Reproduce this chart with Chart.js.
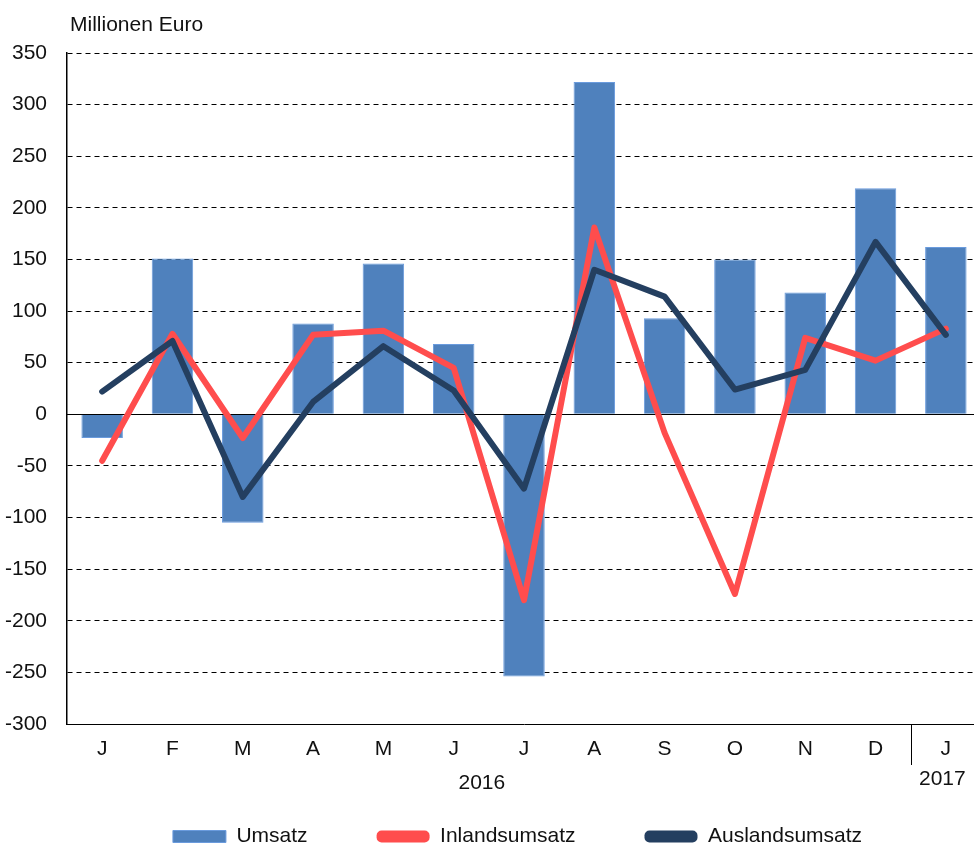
<!DOCTYPE html>
<html>
<head>
<meta charset="utf-8">
<script src="https://cdn.jsdelivr.net/npm/chart.js@4/dist/chart.umd.min.js"></script>
<style>
html, body { margin: 0; padding: 0; background: #fff; overflow: hidden; }
#wrap { width: 974px; height: 846px; overflow: hidden; }
</style>
</head>
<body>
<div id="wrap"><canvas id="chart" width="981" height="864"></canvas></div>
<script>
var months = ['J', 'F', 'M', 'A', 'M', 'J', 'J', 'A', 'S', 'O', 'N', 'D', 'J'];
var umsatz = [-23, 151, -105, 88, 146, 68, -254, 322, 93, 150, 118, 219, 162];
var inland = [-45, 78, -23, 77, 81, 45, -180, 181, -18, -174, 74, 52, 83];
var ausland = [22, 71, -80, 12, 66, 23, -72, 140, 114, 24, 43, 167, 77];
var years = ['2016', '2017'];
var yMin = -300, yMax = 350, yStep = 50;

var FONT = '"Liberation Sans", Arial, sans-serif';

// the original plot runs a few pixels past the right edge, so the canvas
// is a bit bigger than the window and gets cropped
var extras = {
    id: 'extras',
    afterLayout: function (chart) {
        var lg = chart.legend;
        lg.left += 27; lg.right += 27;
        lg.top -= 7; lg.bottom -= 7;
    },
    afterDatasetDraw: function (chart, args) {
        if (args.index !== 0) return;
        var ctx = chart.ctx, y = chart.scales.y.getPixelForValue(0), a = chart.chartArea;
        ctx.save();
        ctx.strokeStyle = '#000';
        ctx.lineWidth = 1;
        ctx.beginPath();
        ctx.moveTo(a.left, Math.round(y) + 0.5);
        ctx.lineTo(a.right, Math.round(y) + 0.5);
        ctx.stroke();
        ctx.restore();
    },
    afterDraw: function (chart) {
        var ctx = chart.ctx, x = chart.scales.x, a = chart.chartArea;
        ctx.save();
        ctx.fillStyle = '#111';
        ctx.font = '21px ' + FONT;
        ctx.textBaseline = 'middle';
        ctx.textAlign = 'left';
        ctx.fillText('Millionen Euro', 70, 25);

        // year separator between D and J
        var sx = Math.round(x.getPixelForValue(11.5)) + 0.5;
        ctx.strokeStyle = '#000';
        ctx.lineWidth = 1;
        ctx.beginPath();
        ctx.moveTo(sx, a.bottom);
        ctx.lineTo(sx, a.bottom + 41);
        ctx.stroke();

        ctx.textAlign = 'center';
        ctx.fillText(years[0], x.getPixelForValue(5.4), 783);
        ctx.fillText(years[1], x.getPixelForValue(11.95), 779);
        ctx.restore();
    }
};

new Chart(document.getElementById('chart'), {
    type: 'bar',
    data: {
        labels: months,
        datasets: [{
            type: 'bar',
            label: 'Umsatz',
            data: umsatz,
            backgroundColor: '#4F81BD',
            borderColor: '#6A9BDD',
            borderWidth: 1,
            categoryPercentage: 1,
            barPercentage: 0.59,
            order: 3
        }, {
            type: 'line',
            label: 'Inlandsumsatz',
            data: inland,
            borderColor: '#FF4D4D',
            backgroundColor: '#FF4D4D',
            borderWidth: 6,
            pointRadius: 0,
            tension: 0,
            borderCapStyle: 'round',
            borderJoinStyle: 'round',
            order: 2
        }, {
            type: 'line',
            label: 'Auslandsumsatz',
            data: ausland,
            borderColor: '#243F60',
            backgroundColor: '#243F60',
            borderWidth: 6,
            pointRadius: 0,
            tension: 0,
            borderCapStyle: 'round',
            borderJoinStyle: 'round',
            order: 1
        }]
    },
    options: {
        responsive: false,
        animation: false,
        devicePixelRatio: 1,
        layout: { padding: { top: 53, right: 0, left: 0, bottom: 0 } },
        plugins: {
            title: { display: false },
            tooltip: { enabled: false },
            legend: {
                position: 'bottom',
                labels: {
                    boxWidth: 53,
                    boxHeight: 12,
                    padding: 69,
                    useBorderRadius: true,
                    color: '#111',
                    font: { family: FONT, size: 21 },
                    generateLabels: function (chart) {
                        return chart.data.datasets.map(function (ds, i) {
                            var isBar = ds.type === 'bar';
                            return {
                                text: ds.label,
                                fillStyle: isBar ? ds.backgroundColor : ds.borderColor,
                                strokeStyle: ds.borderColor,
                                lineWidth: isBar ? 1 : 0,
                                borderRadius: isBar ? 0 : 5,
                                fontColor: '#111',
                                datasetIndex: i,
                                hidden: false
                            };
                        });
                    }
                }
            }
        },
        scales: {
            x: {
                offset: true,
                grid: { display: false, drawTicks: false },
                border: { display: true, color: '#000', width: 1 },
                ticks: {
                    color: '#111',
                    font: { family: FONT, size: 21 },
                    padding: 13,
                    autoSkip: false,
                    maxRotation: 0
                },
                afterFit: function (s) { s.height = 40; }
            },
            y: {
                min: yMin,
                max: yMax,
                grid: { color: '#000', lineWidth: 1, drawTicks: false },
                border: { display: true, color: '#000', width: 1.5, dash: [5, 4] },
                ticks: {
                    stepSize: yStep,
                    color: '#111',
                    font: { family: FONT, size: 21 },
                    padding: 20
                },
                afterFit: function (s) { s.width = 67; }
            }
        }
    },
    plugins: [extras]
});
</script>
</body>
</html>
